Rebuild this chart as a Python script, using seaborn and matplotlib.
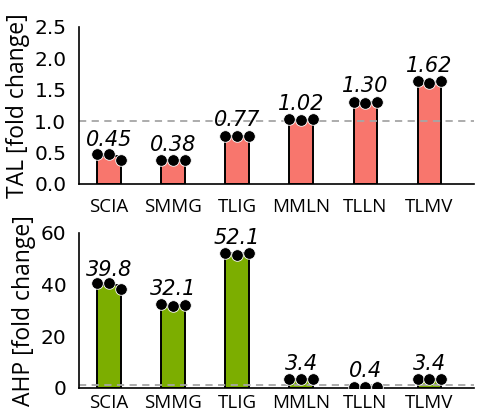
import matplotlib
matplotlib.use("Agg")
import matplotlib.pyplot as plt
import numpy as np
import pandas as pd
import seaborn as sns

# data
samples = ["SCIA", "SMMG", "TLIG", "MMLN", "TLLN", "TLMV"]
tal_reps = [
    [0.48, 0.48, 0.38],
    [0.38, 0.38, 0.38],
    [0.77, 0.77, 0.77],
    [1.03, 1.01, 1.03],
    [1.31, 1.29, 1.31],
    [1.63, 1.61, 1.63],
]
tal_labels = ["0.45", "0.38", "0.77", "1.02", "1.30", "1.62"]
ahp_reps = [
    [40.5, 40.5, 38.4],
    [32.4, 31.8, 32.1],
    [52.4, 51.5, 52.4],
    [3.4, 3.4, 3.4],
    [0.4, 0.4, 0.4],
    [3.4, 3.4, 3.4],
]
ahp_labels = ["39.8", "32.1", "52.1", "3.4", "0.4", "3.4"]
rep_offsets = [-0.18, 0.0, 0.18]

sns.set_theme(style="white")
plt.rcParams["font.family"] = ["Open Sans", "DejaVu Sans"]
plt.rcParams["text.color"] = "black"
plt.rcParams["axes.labelcolor"] = "black"

fig = plt.figure(figsize=(4.87, 4.19), dpi=100)
ax_top = fig.add_axes([0.162, 0.561, 0.811, 0.375])
ax_bot = fig.add_axes([0.162, 0.074, 0.811, 0.370])


def draw_panel(ax, reps, labels, color, ylim, yticks, yticklabels, ylabel,
               xpad):
    means = [np.mean(r) for r in reps]
    df = pd.DataFrame({"sample": samples, "value": means})
    sns.barplot(data=df, x="sample", y="value", color=color, width=0.36,
                edgecolor="black", linewidth=1.4, saturation=1, ax=ax,
                errorbar=None)
    ax.axhline(1.0, color="#a6a6a6", linestyle=(0, (4, 3)), linewidth=1.3,
               zorder=1)
    pts = pd.DataFrame({
        "x": [i + off for i in range(len(samples)) for off in rep_offsets],
        "y": [v for r in reps for v in r],
    })
    sns.scatterplot(data=pts, x="x", y="y", color="black", s=70,
                    edgecolor="white", linewidth=0.6, zorder=5, ax=ax,
                    legend=False)
    for i, lab in enumerate(labels):
        ax.annotate(lab, (i, means[i]), xytext=(0, 4),
                    textcoords="offset points", ha="center", va="bottom",
                    fontsize=15, fontstyle="italic", color="black",
                    family="DejaVu Sans")
    ax.set_xlim(-0.47, 5.7)
    ax.set_ylim(*ylim)
    ax.set_yticks(yticks)
    ax.set_yticklabels(yticklabels, family="DejaVu Sans", fontsize=14.5)
    ax.set_xticks(range(len(samples)))
    ax.set_xticklabels(samples, fontsize=13.5)
    ax.set_xlabel("")
    ax.set_ylabel(ylabel, fontsize=16.5, labelpad=3, color="black")
    ax.tick_params(axis="both", length=0, colors="black")
    ax.tick_params(axis="y", pad=9)
    ax.tick_params(axis="x", pad=xpad)
    for s in ["top", "right"]:
        ax.spines[s].set_visible(False)
    for s in ["left", "bottom"]:
        ax.spines[s].set_color("black")
        ax.spines[s].set_linewidth(1.2)


draw_panel(ax_top, tal_reps, tal_labels, "#F8766D", (0, 2.5),
           [0, 0.5, 1.0, 1.5, 2.0, 2.5],
           ["0.0", "0.5", "1.0", "1.5", "2.0", "2.5"],
           "TAL [fold change]", 10)
draw_panel(ax_bot, ahp_reps, ahp_labels, "#7CAE00", (0, 60),
           [0, 20, 40, 60], ["0", "20", "40", "60"],
           "AHP [fold change]", 4)

fig.savefig("out.png", dpi=100)
